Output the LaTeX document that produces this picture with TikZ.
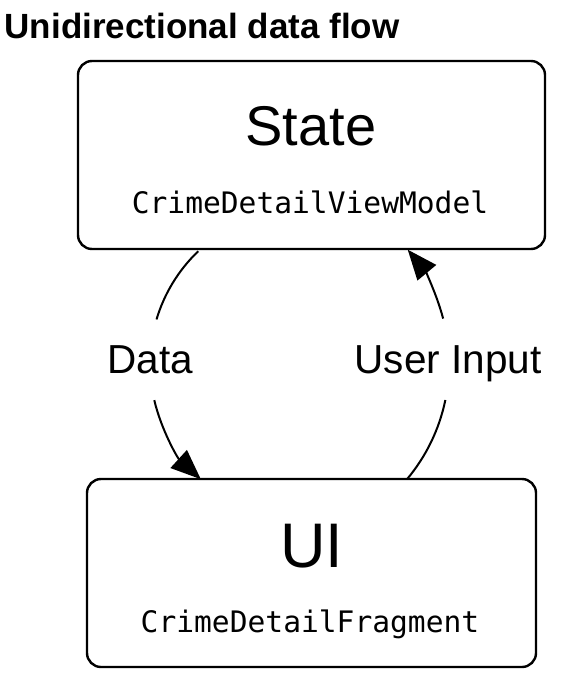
\documentclass[tikz,border=0pt]{standalone}
\usepackage{fontspec}
\setmainfont{Liberation Sans}
\setmonofont{DejaVu Sans Mono}
\usetikzlibrary{arrows.meta,calc}
\begin{document}
\begin{tikzpicture}[x=1pt,y=1pt,
  box/.style={draw, line width=2.4pt, rounded corners=14pt, inner sep=0pt},
  flow/.style={line width=2pt},
  tipped/.style={-{Triangle[length=30pt,width=24pt]}},
  txt/.style={anchor=base, inner sep=0pt},
  big/.style={txt, font=\fontsize{56}{56}\selectfont},
  code/.style={txt, font=\ttfamily\fontsize{29.6}{30}\selectfont},
  lbl/.style={txt, font=\fontsize{40.5}{40.5}\selectfont}
]
\useasboundingbox (0,0) rectangle (562,-685);
\node[anchor=base west, inner sep=0pt, font=\bfseries\fontsize{35}{35}\selectfont] (title) at (4.5,-39) {Unidirectional data flow};
% boxes
\node[box, minimum width=467pt, minimum height=188pt] (state) at (311.5,-155) {};
\node[box, minimum width=449pt, minimum height=188pt] (ui) at (311.5,-573) {};
% texts
\node[big] (statet) at (311,-145) {State};
\node[code] (statec) at (310,-213) {CrimeDetailViewModel};
\node[txt, font=\fontsize{63}{63}\selectfont] (uit) at (312,-567) {UI};
\node[code] (uic) at (310,-632) {CrimeDetailFragment};
% labels
\node[lbl] (data) at (150.5,-373) {Data};
\node[lbl] (input) at (448,-373) {User Input};
% arcs
\coordinate (c1) at (306,-364);
\coordinate (c2) at (270,-364);
\coordinate (dA) at ($(c1)+(133.7:156)$);
\coordinate (dB) at ($(c1)+(193.4:156)$);
\coordinate (uA) at ($(c2)+(-40:179)$);
\coordinate (uB) at ($(c2)+(14.7:179)$);
\draw[flow] (dA) arc[start angle=133.7, end angle=163.4, radius=156];
\draw[flow, tipped] (dB) arc[start angle=193.4, end angle=227.6, radius=156];
\draw[flow] (uA) arc[start angle=-40, end angle=-11.6, radius=179];
\draw[flow, tipped] (uB) arc[start angle=14.7, end angle=39.7, radius=179];
\end{tikzpicture}
\end{document}
